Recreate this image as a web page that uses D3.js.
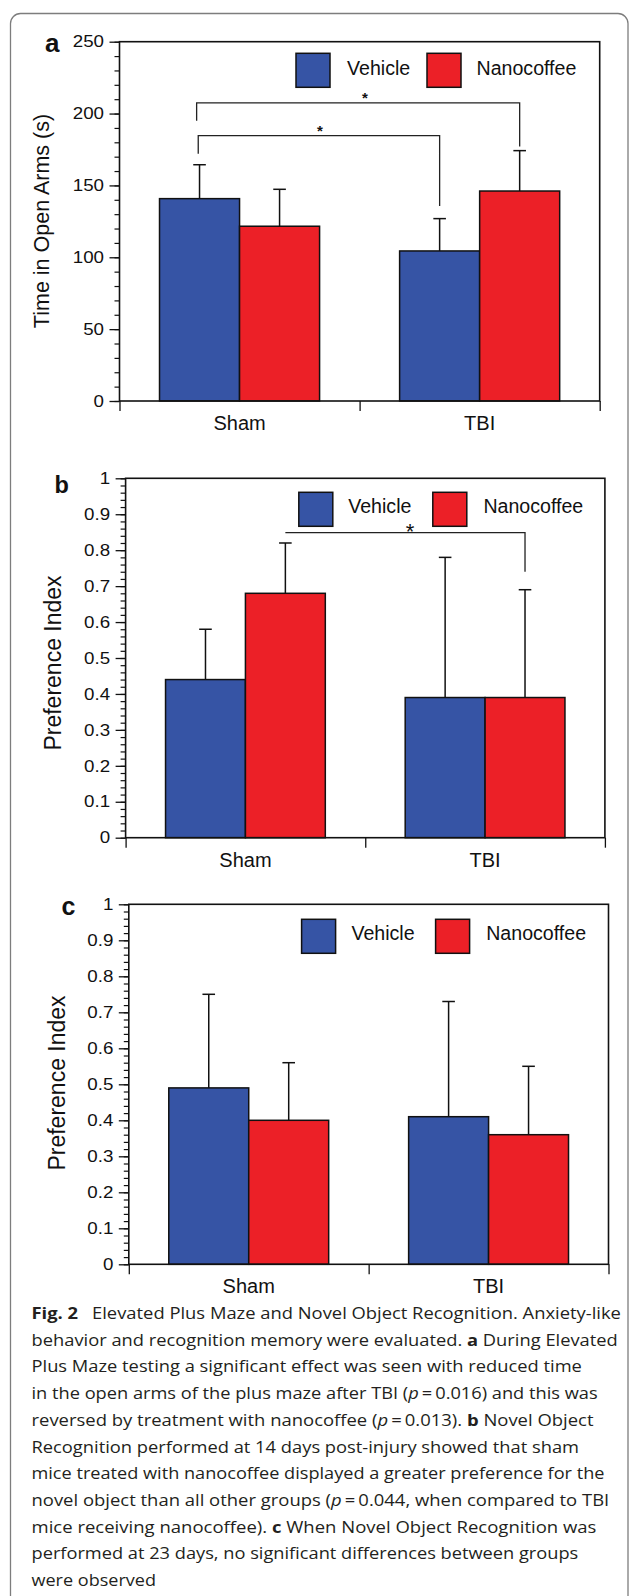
<!DOCTYPE html>
<html><head><meta charset="utf-8">
<script src="https://cdn.jsdelivr.net/npm/d3@7/dist/d3.min.js"></script>
<style>
html,body{margin:0;padding:0;background:#fff;}
svg{display:block;}
</style></head><body>
<svg id="fig" width="629" height="1596"></svg>
<script>
// ---------------- data ----------------
const categories = ["Sham", "TBI"];
const seriesNames = ["Vehicle", "Nanocoffee"];
const seriesColors = ["#3654a5", "#ec2027"];

// Panel a: time in open arms (s), mean and upper error
const openArmsVehicle = [140.8, 104.4];
const openArmsVehicleErr = [23.6, 22.5];
const openArmsNano = [121.6, 146.1];
const openArmsNanoErr = [25.7, 28.1];
const openArmsTicks = [0, 50, 100, 150, 200, 250];
const openArmsTickLabels = ["0", "50", "100", "150", "200", "250"];

// Panel b: preference index, 14 days
const nor14Vehicle = [0.44, 0.39];
const nor14VehicleErr = [0.14, 0.39];
const nor14Nano = [0.68, 0.39];
const nor14NanoErr = [0.14, 0.30];

// Panel c: preference index, 23 days
const nor23Vehicle = [0.49, 0.41];
const nor23VehicleErr = [0.26, 0.32];
const nor23Nano = [0.40, 0.36];
const nor23NanoErr = [0.16, 0.19];

const prefTicks = [0, 0.1, 0.2, 0.3, 0.4, 0.5, 0.6, 0.7, 0.8, 0.9, 1];
const prefTickLabels = ["0", "0.1", "0.2", "0.3", "0.4", "0.5", "0.6", "0.7", "0.8", "0.9", "1"];

// significance brackets (data units)
const bracketsA = [
  {from: ["Sham", "Vehicle"], to: ["TBI", "Vehicle"], y: 184.6, fromEnd: 172, toEnd: 135.7, star: 0.504},
  {from: ["Sham", "Vehicle"], to: ["TBI", "Nanocoffee"], y: 207.4, fromEnd: 195, toEnd: 177, star: 0.521}
];
const bracketsB = [
  {from: ["Sham", "Nanocoffee"], to: ["TBI", "Nanocoffee"], y: 0.849, fromEnd: null, toEnd: 0.74, star: 0.52}
];

const captionLines = [
  [["b", "Fig. 2"], ["n", "\u2002 Elevated Plus Maze and Novel Object Recognition. Anxiety-like"]],
  [["n", "behavior and recognition memory were evaluated. "], ["b", "a"], ["n", " During Elevated"]],
  [["n", "Plus Maze testing a significant effect was seen with reduced time"]],
  [["n", "in the open arms of the plus maze after TBI ("], ["i", "p"], ["n", "\u2009=\u20090.016) and this was"]],
  [["n", "reversed by treatment with nanocoffee ("], ["i", "p"], ["n", "\u2009=\u20090.013). "], ["b", "b"], ["n", " Novel Object"]],
  [["n", "Recognition performed at 14 days post-injury showed that sham"]],
  [["n", "mice treated with nanocoffee displayed a greater preference for the"]],
  [["n", "novel object than all other groups ("], ["i", "p"], ["n", "\u2009=\u20090.044, when compared to TBI"]],
  [["n", "mice receiving nanocoffee). "], ["b", "c"], ["n", " When Novel Object Recognition was"]],
  [["n", "performed at 23 days, no significant differences between groups"]],
  [["n", "were observed"]]
];
const captionEnds = [621, 618, 582, 598, 593.5, 579.5, 605, 609, 596.5, 578.5, 156];

// ---------------- drawing ----------------
const svg = d3.select("#fig");
const FONT = "'Liberation Sans', Arial, Helvetica, sans-serif";

svg.append("rect").attr("x", 10.5).attr("y", 13.5).attr("width", 617.5).attr("height", 1630)
  .attr("rx", 10).attr("fill", "none").attr("stroke", "#7d7d7d").attr("stroke-width", 1.3);

function panel(cfg) {
  const g = svg.append("g");
  const y = d3.scaleLinear().domain(cfg.domain).range([cfg.bottom, cfg.top]);
  const x0 = d3.scaleBand().domain(categories).range([cfg.left, cfg.right]);
  const bw = x0.bandwidth();
  const x1 = d3.scaleBand().domain(seriesNames).range([bw / 6, bw * 5 / 6]);

  const rows = [];
  categories.forEach((c, i) => {
    rows.push({cat: c, s: "Vehicle", v: cfg.vehicle[i], e: cfg.vehicleErr[i], color: seriesColors[0]});
    rows.push({cat: c, s: "Nanocoffee", v: cfg.nano[i], e: cfg.nanoErr[i], color: seriesColors[1]});
  });
  const cx = (c, s) => x0(c) + x1(s) + x1.bandwidth() / 2;

  // error bars (upper only)
  const eb = g.append("g").attr("stroke", "#111").attr("stroke-width", 1.5).attr("fill", "none");
  rows.forEach(r => {
    eb.append("line").attr("x1", cx(r.cat, r.s)).attr("x2", cx(r.cat, r.s))
      .attr("y1", y(r.v)).attr("y2", y(r.v + r.e));
    eb.append("line").attr("x1", cx(r.cat, r.s) - 6.3).attr("x2", cx(r.cat, r.s) + 6.3)
      .attr("y1", y(r.v + r.e)).attr("y2", y(r.v + r.e));
  });

  // bars
  g.append("g").selectAll("rect").data(rows).join("rect")
    .attr("x", d => x0(d.cat) + x1(d.s))
    .attr("y", d => y(d.v))
    .attr("width", x1.bandwidth())
    .attr("height", d => y(cfg.domain[0]) - y(d.v))
    .attr("fill", d => d.color)
    .attr("stroke", "#111").attr("stroke-width", 1.5);

  // frame
  g.append("rect").attr("x", cfg.left).attr("y", cfg.top)
    .attr("width", cfg.right - cfg.left).attr("height", cfg.bottom - cfg.top)
    .attr("fill", "none").attr("stroke", "#111").attr("stroke-width", 1.6);

  // y axis: minor ticks
  const minor = d3.range(cfg.domain[0], cfg.domain[1] + cfg.minorStep / 2, cfg.minorStep);
  const ymin = g.append("g").attr("transform", `translate(${cfg.left},0)`)
    .call(d3.axisLeft(y).tickValues(minor).tickSize(5).tickFormat(""));
  ymin.select(".domain").remove();
  ymin.selectAll("line").attr("stroke", "#111").attr("stroke-width", 1.2);

  // y axis: major ticks with labels
  const yax = g.append("g").attr("transform", `translate(${cfg.left},0)`)
    .call(d3.axisLeft(y).tickValues(cfg.ticks).tickSize(10).tickPadding(5)
      .tickFormat((d, i) => cfg.tickLabels[i]));
  yax.select(".domain").remove();
  yax.selectAll("line").attr("stroke", "#111").attr("stroke-width", 1.3);
  yax.selectAll("text").attr("font-family", FONT).attr("font-size", 16.3).attr("fill", "#111")
    .attr("x", -15.5 / 1.15).attr("transform", "scale(1.15,1)");

  // x axis ticks at band edges
  const xEdge = d3.scaleLinear().domain([0, categories.length]).range([cfg.left, cfg.right]);
  const xt = g.append("g").attr("transform", `translate(0,${cfg.bottom})`)
    .call(d3.axisBottom(xEdge).tickValues(d3.range(0, categories.length + 1)).tickSize(10).tickFormat(""));
  xt.select(".domain").remove();
  xt.selectAll("line").attr("stroke", "#111").attr("stroke-width", 1.3);

  // x axis category labels
  const xl = g.append("g").attr("transform", `translate(0,${cfg.bottom})`)
    .call(d3.axisBottom(x0).tickSize(0));
  xl.select(".domain").remove();
  xl.selectAll("text").attr("y", 29).attr("dy", 0)
    .attr("font-family", FONT).attr("font-size", 20).attr("fill", "#111");

  // y title
  g.append("text").attr("transform", `translate(${cfg.titleX},${cfg.titleY}) rotate(-90)`)
    .attr("text-anchor", "middle").attr("font-family", FONT).attr("font-size", cfg.titleSize)
    .attr("fill", "#111").text(cfg.title);

  // panel letter
  g.append("text").attr("x", cfg.letterX).attr("y", cfg.letterY)
    .attr("font-family", FONT).attr("font-weight", "bold").attr("font-size", cfg.letterSize)
    .attr("fill", "#111").text(cfg.letter);

  // legend
  const lg = g.append("g").attr("transform", `translate(${cfg.left},${cfg.top + cfg.legTop})`);
  seriesNames.forEach((s, i) => {
    lg.append("rect").attr("x", cfg.legRect[i]).attr("y", 0).attr("width", 34).attr("height", 34)
      .attr("fill", seriesColors[i]).attr("stroke", "#111").attr("stroke-width", 1.5);
    lg.append("text").attr("x", cfg.legText[i]).attr("y", cfg.legBase)
      .attr("font-family", FONT).attr("font-size", 19.6).attr("fill", "#111").text(s);
  });

  // significance brackets
  (cfg.brackets || []).forEach(b => {
    const xa = cx(b.from[0], b.from[1]) + (b.fromDx || 0);
    const xb = cx(b.to[0], b.to[1]);
    const yb = y(b.y);
    const pts = [];
    if (b.fromEnd !== null) pts.push([xa, y(b.fromEnd)]);
    pts.push([xa, yb], [xb, yb], [xb, y(b.toEnd)]);
    g.append("path").attr("d", d3.line()(pts)).attr("fill", "none")
      .attr("stroke", "#222").attr("stroke-width", 1.3);
    g.append("text").attr("x", xa + (xb - xa) * b.star).attr("y", yb + cfg.starDy)
      .attr("text-anchor", "middle").attr("font-family", FONT)
      .attr("font-weight", cfg.starWeight).attr("font-size", cfg.starSize)
      .attr("fill", "#111").text("*");
  });
}

bracketsA.forEach((b, i) => b.fromDx = i === 0 ? -1.3 : -2.9);

panel({
  left: 119.5, right: 599.7, top: 41.7, bottom: 401,
  domain: [0, 250], ticks: openArmsTicks, tickLabels: openArmsTickLabels, minorStep: 10,
  vehicle: openArmsVehicle, vehicleErr: openArmsVehicleErr, nano: openArmsNano, nanoErr: openArmsNanoErr,
  title: "Time in Open Arms (s)", titleSize: 21.5, titleX: 49, titleY: 221,
  letter: "a", letterX: 45, letterY: 52.3, letterSize: 26,
  legTop: 11.6, legRect: [176.5, 307.5], legText: [227.5, 357], legBase: 21.7,
  brackets: bracketsA, starDy: 0, starSize: 15, starWeight: "bold"
});

panel({
  left: 125.6, right: 604.9, top: 478.3, bottom: 837.7,
  domain: [0, 1], ticks: prefTicks, tickLabels: prefTickLabels, minorStep: 0.02,
  vehicle: nor14Vehicle, vehicleErr: nor14VehicleErr, nano: nor14Nano, nanoErr: nor14NanoErr,
  title: "Preference Index", titleSize: 23, titleX: 61, titleY: 663,
  letter: "b", letterX: 54.5, letterY: 492.7, letterSize: 23.5,
  legTop: 14, legRect: [173.2, 307.2], legText: [222.6, 357.8], legBase: 21,
  brackets: bracketsB, starDy: 6.5, starSize: 22, starWeight: "normal"
});

panel({
  left: 128.8, right: 608.5, top: 904.3, bottom: 1264.3,
  domain: [0, 1], ticks: prefTicks, tickLabels: prefTickLabels, minorStep: 0.02,
  vehicle: nor23Vehicle, vehicleErr: nor23VehicleErr, nano: nor23Nano, nanoErr: nor23NanoErr,
  title: "Preference Index", titleSize: 23, titleX: 65, titleY: 1083,
  letter: "c", letterX: 61.5, letterY: 915, letterSize: 25,
  legTop: 15, legRect: [172.8, 306.8], legText: [222.6, 357.4], legBase: 21,
  brackets: [], starDy: 0, starSize: 15, starWeight: "bold"
});

// caption
const CAP_FONT = "'Open Sans', 'Noto Sans', sans-serif";
captionLines.forEach((parts, i) => {
  const base = 1319 + i * 26.7;
  const t = svg.append("text").attr("x", 0).attr("y", 0)
    .attr("font-family", CAP_FONT).attr("font-size", 16.6).attr("fill", "#231f20")
    .attr("xml:space", "preserve").style("white-space", "pre");
  parts.forEach(([kind, str]) => {
    const ts = t.append("tspan").text(str);
    if (kind === "b") ts.attr("font-weight", 700);
    if (kind === "i") ts.attr("font-style", "italic");
  });
  const w = t.node().getComputedTextLength();
  const target = captionEnds[i] - 31.5;
  t.attr("transform", `translate(31.5,${base}) scale(${target / w},1)`);
});
</script>
</body></html>
